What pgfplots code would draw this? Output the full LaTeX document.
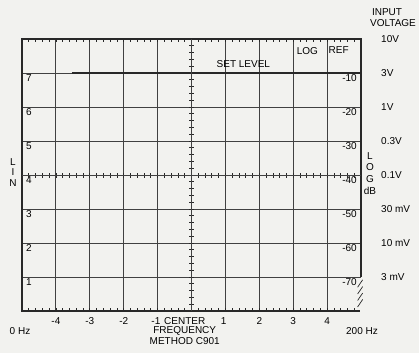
\documentclass[border=0pt]{standalone}
\usepackage{pgfplots}
\pgfplotsset{compat=1.18}
\usepackage{fontspec}
\setmainfont{Liberation Sans}
\definecolor{bg}{RGB}{242,242,239}
\definecolor{ink}{RGB}{40,40,40}
\definecolor{gridc}{RGB}{65,65,65}
\newcommand\lab{\fontsize{7.2}{9}\selectfont\bfseries}
\begin{document}
\begin{tikzpicture}[x=1pt,y=1pt]
\path[use as bounding box, fill=bg] (0,0) rectangle (419,353);
\begin{axis}[
  at={(22pt,42pt)}, anchor=south west, scale only axis,
  width=339pt, height=272pt,
  xmin=-5, xmax=5, ymin=0, ymax=8, clip=false,
  xtick={-4,...,4}, minor xtick={-4.8,-4.6,...,4.8},
  ytick={1,...,7}, xticklabels={}, yticklabels={},
  grid=major, major grid style={line width=0.9pt, color=gridc},
  tick align=inside, major tick length=3pt, minor tick length=3pt,
  tick style={line width=0.7pt, color=ink},
  ytick style={draw=none},
  axis line style={draw=none},
  every node/.append style={text=ink, font=\lab},
]
% frame (right edge open below -70)
\addplot[ink, line width=1.3pt] coordinates {(5,1) (5,8) (-5,8) (-5,0) (4.97,0)};
% set level line
\addplot[ink, line width=2.2pt] coordinates {(-3.53,7) (5,7)};
% heavy left edge at top
\addplot[ink, line width=2.6pt] coordinates {(-5,8) (-5,7.44)};
% hatch marks at lower right
\addplot[ink, line width=0.7pt] coordinates {(4.90,0.70) (5.05,0.92)};
\addplot[ink, line width=0.7pt] coordinates {(4.90,0.50) (5.05,0.72)};
\addplot[ink, line width=0.7pt] coordinates {(4.90,0.31) (5.05,0.53)};
\addplot[ink, line width=0.7pt] coordinates {(4.90,0.12) (5.05,0.34)};

% LIN scale
\node[anchor=north west, inner sep=0pt, xshift=4pt, yshift=-1.5pt] at (-5,7) {7};
\node[anchor=north west, inner sep=0pt, xshift=4pt, yshift=-1.5pt] at (-5,6) {6};
\node[anchor=north west, inner sep=0pt, xshift=4pt, yshift=-1.5pt] at (-5,5) {5};
\node[anchor=north west, inner sep=0pt, xshift=4pt, yshift=-1.5pt] at (-5,4) {4};
\node[anchor=north west, inner sep=0pt, xshift=4pt, yshift=-1.5pt] at (-5,3) {3};
\node[anchor=north west, inner sep=0pt, xshift=4pt, yshift=-1.5pt] at (-5,2) {2};
\node[anchor=north west, inner sep=0pt, xshift=4pt, yshift=-1.5pt] at (-5,1) {1};
% LOG dB scale
\node[anchor=north east, inner sep=0pt, xshift=-4pt, yshift=-1.5pt] at (5,7) {-10};
\node[anchor=north east, inner sep=0pt, xshift=-4pt, yshift=-1.5pt] at (5,6) {-20};
\node[anchor=north east, inner sep=0pt, xshift=-4pt, yshift=-1.5pt] at (5,5) {-30};
\node[anchor=north east, inner sep=0pt, xshift=-4pt, yshift=-1.5pt] at (5,4) {-40};
\node[anchor=north east, inner sep=0pt, xshift=-4pt, yshift=-1.5pt] at (5,3) {-50};
\node[anchor=north east, inner sep=0pt, xshift=-4pt, yshift=-1.5pt] at (5,2) {-60};
\node[anchor=north east, inner sep=0pt, xshift=-4pt, yshift=-1.5pt] at (5,1) {-70};
% input voltage
\node[anchor=west, inner sep=0pt, xshift=20pt] at (5,8) {10V};
\node[anchor=west, inner sep=0pt, xshift=20pt] at (5,7) {3V};
\node[anchor=west, inner sep=0pt, xshift=20pt] at (5,6) {1V};
\node[anchor=west, inner sep=0pt, xshift=20pt] at (5,5) {0.3V};
\node[anchor=west, inner sep=0pt, xshift=20pt] at (5,4) {0.1V};
\node[anchor=west, inner sep=0pt, xshift=20pt] at (5,3) {30 mV};
\node[anchor=west, inner sep=0pt, xshift=20pt] at (5,2) {10 mV};
\node[anchor=west, inner sep=0pt, xshift=20pt] at (5,1) {3 mV};
\node[inner sep=0pt, xshift=26pt, yshift=27pt] at (5,8) {INPUT};
\node[inner sep=0pt, xshift=32pt, yshift=16pt] at (5,8) {VOLTAGE};
% side titles
\node[inner sep=0pt, xshift=-9pt, yshift=13pt] at (-5,4) {L};
\node[inner sep=0pt, xshift=-9pt, yshift=2.5pt] at (-5,4) {I};
\node[inner sep=0pt, xshift=-9pt, yshift=-8.5pt] at (-5,4) {N};
\node[inner sep=0pt, xshift=9pt, yshift=19pt] at (5,4) {L};
\node[inner sep=0pt, xshift=9pt, yshift=8.3pt] at (5,4) {O};
\node[inner sep=0pt, xshift=9pt, yshift=-4.3pt] at (5,4) {G};
\node[inner sep=0pt, xshift=9pt, yshift=-15.7pt] at (5,4) {dB};
% inside labels
\node[inner sep=0pt] at (1.53,7.25) {SET LEVEL};
\node[inner sep=0pt] at (3.42,7.66) {LOG};
\node[inner sep=0pt] at (4.34,7.66) {REF};
% frequency axis
\node[inner sep=0pt, yshift=-10pt] at (-4,0) {-4};
\node[inner sep=0pt, yshift=-10pt] at (-3,0) {-3};
\node[inner sep=0pt, yshift=-10pt] at (-2,0) {-2};
\node[inner sep=0pt, yshift=-10pt] at (-1.05,0) {-1};
\node[inner sep=0pt, yshift=-10pt] at (-0.2,0) {CENTER};
\node[inner sep=0pt, yshift=-10pt] at (0.95,0) {1};
\node[inner sep=0pt, yshift=-10pt] at (2,0) {2};
\node[inner sep=0pt, yshift=-10pt] at (3,0) {3};
\node[inner sep=0pt, yshift=-10pt] at (4,0) {4};
\node[inner sep=0pt, yshift=-20pt] at (-0.2,0) {FREQUENCY};
\node[inner sep=0pt, yshift=-30pt] at (-0.2,0) {METHOD C901};
\node[inner sep=0pt, xshift=-2pt, yshift=-20pt] at (-5,0) {0 Hz};
\node[inner sep=0pt, xshift=1pt, yshift=-20pt] at (5,0) {200 Hz};
\end{axis}
\begin{axis}[
  at={(22pt,42pt)}, anchor=south west, scale only axis,
  width=339pt, height=272pt,
  xmin=-5, xmax=5, ymin=-4, ymax=4,
  axis lines=middle, axis line style={-, color=gridc, line width=0.9pt},
  xtick={-4,...,4}, ytick={-3,...,3},
  minor xtick={-4.8,-4.6,...,4.8}, minor ytick={-3.8,-3.6,...,3.8},
  xticklabels={}, yticklabels={},
  tick align=center, major tick length=5pt, minor tick length=5pt,
  tick style={line width=0.7pt, color=ink},
]
\end{axis}
\end{tikzpicture}
\end{document}
